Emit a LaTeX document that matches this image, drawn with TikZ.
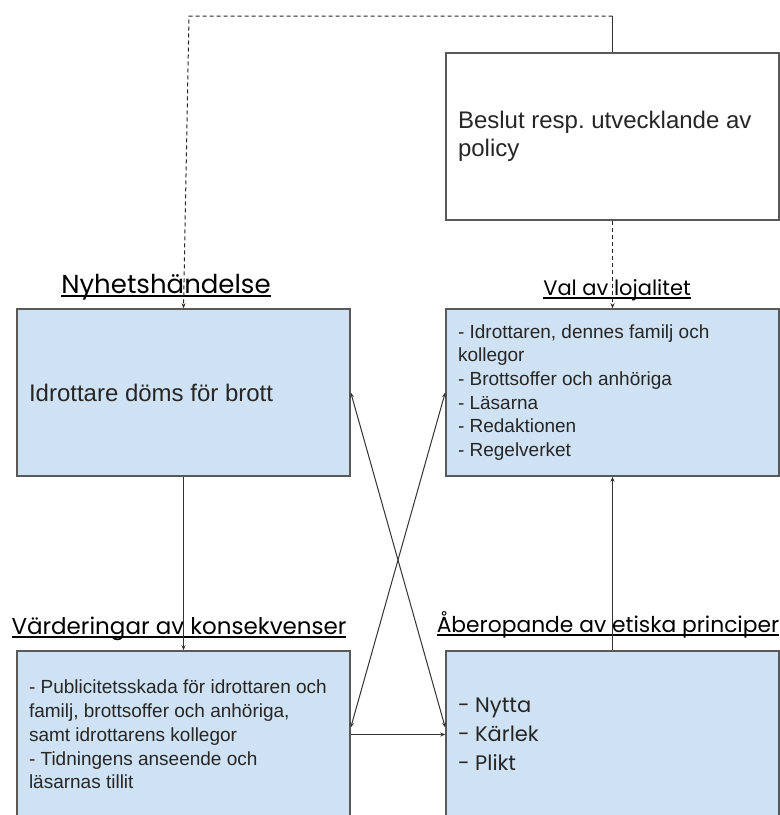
\documentclass[tikz,border=0pt]{standalone}
\usepackage{fontspec}
\setmainfont{Liberation Sans}
\newfontfamily\titlefont{Poppins}
\usepackage{tikz}
\usetikzlibrary{arrows.meta,calc}
\definecolor{boxblue}{HTML}{CFE2F3}
\definecolor{edgegray}{HTML}{595959}
\definecolor{linegray}{HTML}{333333}
\newcommand{\ulin}[1]{\setbox0\hbox{#1}\rlap{\rule[-4pt]{\wd0}{1.6pt}}\box0}
\frenchspacing

\begin{document}
\begin{tikzpicture}[x=1pt,y=-1pt,
  box/.style={draw=edgegray, line width=1.5pt, fill=boxblue, minimum width=333pt, minimum height=167pt, text width=309pt, inner sep=12pt, align=flush left, text=black!85},
  title/.style={anchor=base, inner sep=0pt, text=black},
  arrow/.style={-{Stealth[length=5pt,width=4pt]}, line width=1pt, draw=linegray},
  dashline/.style={dash pattern=on 4pt off 3pt, draw=black!85}
]
\useasboundingbox (0,0) rectangle (780,815);
\clip (0,0) rectangle (780,815);

\node[box, fill=white, font=\fontsize{24}{28}\selectfont] (policy) at (612.5,136.5) {Beslut resp. utvecklande av policy};

\node[box, font=\fontsize{24}{28}\selectfont] (news) at (183.5,392.5) {Idrottare döms för brott};

\node[box, font=\fontsize{19}{23.7}\selectfont] (loyal) at (612.5,392.5) {- Idrottaren, dennes familj och\\kollegor\\- Brottsoffer och anhöriga\\- Läsarna\\- Redaktionen\\- Regelverket};

\node[box, font=\fontsize{19}{23.7}\selectfont] (values) at (183.5,734.5) {- Publicitetsskada för idrottaren och\\familj, brottsoffer och anhöriga,\\samt idrottarens kollegor\\- Tidningens anseende och\\läsarnas tillit};

\node[box, font=\titlefont\fontsize{21}{29}\selectfont] (ethics) at (612.5,734.5) {- Nytta\\- Kärlek\\- Plikt};

\node[title, font=\titlefont\fontsize{26}{30}\selectfont] (newsT) at (166,293) {\ulin{Nyhetshändelse}};
\node[title, font=\titlefont\fontsize{21}{25}\selectfont] (loyalT) at (617,295) {\ulin{Val av lojalitet}};
\node[title, font=\titlefont\fontsize{23}{27}\selectfont] (valuesT) at (179,634) {\ulin{Värderingar av konsekvenser}};
\node[title, font=\titlefont\fontsize{21.8}{26}\selectfont] (ethicsT) at (608,632) {\ulin{Åberopande av etiska principer}};

\coordinate (top) at (612.5,16);
\coordinate (bend) at (189,16);

\draw[line width=1pt, linegray] (policy.north) -- (top);
\draw[arrow, dashline] (top) -- (bend) -- (news.north);
\draw[arrow, dashline] (policy.south) -- (loyal.north);
\draw[arrow] (news.south) -- (values.north);
\draw[arrow] (ethics.north) -- (loyal.south);
\draw[arrow] (values.east) -- (ethics.west);
\draw[arrow, {Stealth[length=5pt,width=4pt]}-{Stealth[length=5pt,width=4pt]}] ($(ethics.west)+(0,-7)$) -- (news.east);
\draw[arrow, {Stealth[length=5pt,width=4pt]}-{Stealth[length=5pt,width=4pt]}] ($(values.east)+(0,-7)$) -- (loyal.west);

\end{tikzpicture}
\end{document}
